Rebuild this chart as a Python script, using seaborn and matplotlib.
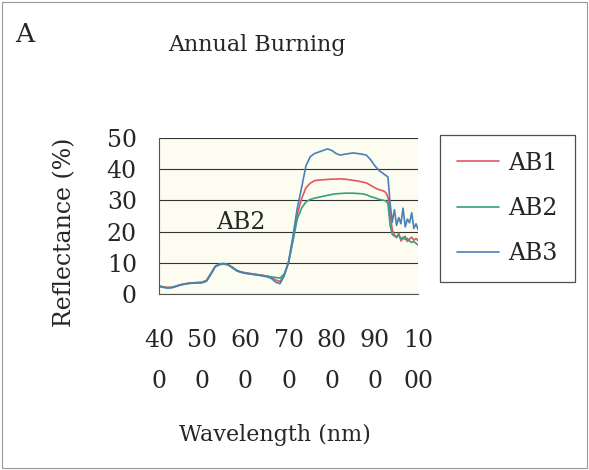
import matplotlib
matplotlib.use("Agg")
import matplotlib.pyplot as plt
import seaborn as sns
import pandas as pd
from matplotlib.patches import Rectangle
from matplotlib.lines import Line2D

wavelength = (list(range(400, 930, 10)) + list(range(925, 1005, 5)))

ab1 = [2.6, 2.3, 2.1, 2.2, 2.6, 3.0, 3.3, 3.5, 3.6, 3.7,
       3.8, 4.4, 6.6, 8.9, 9.5, 9.6, 9.4, 8.6, 7.6, 7.1,
       6.8, 6.6, 6.4, 6.2, 6.0, 5.7, 5.3, 4.5, 4.0, 6.2,
       10.2, 17.5, 25.5, 30.5, 34.0, 35.5, 36.3, 36.5, 36.6, 36.7,
       36.8, 36.8, 36.9, 36.8, 36.6, 36.4, 36.2, 35.9, 35.6, 34.8,
       34.0, 33.4, 33.0,
       32.5, 31.0, 26.0, 20.5, 19.0, 18.0, 19.5, 17.0, 17.8, 18.5, 16.8, 17.6, 18.2, 17.2, 17.8, 17.0]
ab2 = [2.5, 2.2, 2.0, 2.1, 2.5, 2.9, 3.2, 3.4, 3.5, 3.6,
       3.7, 4.2, 6.4, 8.7, 9.4, 9.6, 9.3, 8.4, 7.5, 7.0,
       6.7, 6.5, 6.3, 6.1, 5.9, 5.7, 5.5, 5.3, 5.1, 6.4,
       10.0, 17.0, 24.0, 27.5, 29.5, 30.3, 30.7, 31.0, 31.3, 31.6,
       31.9, 32.1, 32.2, 32.3, 32.3, 32.3, 32.2, 32.1, 31.8, 31.2,
       30.8, 30.3, 30.0,
       29.8, 29.0, 22.0, 19.0, 18.6, 18.2, 19.0, 17.6, 18.2, 17.4, 17.8, 17.0, 16.5, 16.8, 16.2, 15.7]
ab3 = [2.4, 2.1, 1.9, 2.0, 2.4, 2.9, 3.2, 3.4, 3.5, 3.5,
       3.6, 4.1, 6.3, 8.8, 9.6, 9.8, 9.4, 8.4, 7.4, 6.9,
       6.6, 6.4, 6.2, 6.0, 5.8, 5.5, 5.0, 3.8, 3.3, 5.8,
       10.5, 18.5, 27.5, 34.0, 41.0, 44.0, 45.0, 45.5, 46.0, 46.5,
       46.0, 45.0, 44.5, 44.8, 45.0, 45.2, 45.0, 44.8, 44.5, 43.0,
       41.0, 39.5, 38.5,
       38.0, 37.5, 29.0, 23.0, 27.0, 22.0, 24.5, 22.5, 27.5, 21.5, 24.0, 22.8, 26.0, 21.0, 22.5, 20.5]

series_names = ["AB1", "AB2", "AB3"]
series_colors = ["#e45560", "#36a080", "#4a80b8"]
x_ticks = [400, 500, 600, 700, 800, 900, 1000]
x_tick_labels = ["40\n0", "50\n0", "60\n0", "70\n0", "80\n0", "90\n0", "10\n00"]
y_ticks = [0, 10, 20, 30, 40, 50]

df = pd.concat([
    pd.DataFrame({"Wavelength": wavelength, "Reflectance": vals, "Series": name})
    for name, vals in zip(series_names, [ab1, ab2, ab3])
])

sns.set_theme(style="white")
plt.rcParams["font.family"] = ["DejaVu Serif"]

FS = 17

fig = plt.figure(figsize=(5.89, 4.70), dpi=100)
ax = fig.add_axes([0.270, 0.3745, 0.440, 0.332])
ax.set_facecolor("#fcfcf0")

sns.lineplot(data=df, x="Wavelength", y="Reflectance", hue="Series",
             palette=dict(zip(series_names, series_colors)), linewidth=1.2,
             ax=ax, legend=False)

ax.set_xlim(400, 1000)
ax.set_ylim(0, 50)
ax.set_xticks(x_ticks)
ax.set_xticklabels(x_tick_labels, fontsize=FS, linespacing=2.0)
ax.set_yticks(y_ticks)
ax.set_yticklabels([str(v) for v in y_ticks], fontsize=FS)
ax.tick_params(axis="x", direction="out", length=5, width=0.8, color="#333333", pad=20)
ax.tick_params(axis="y", direction="out", length=6, width=0.8, color="#333333", pad=10)
ax.set_xlabel("")
ax.set_ylabel("")
ax.grid(axis="y", color="#333333", linewidth=0.8)
ax.grid(axis="x", visible=False)
for s in ["top", "right"]:
    ax.spines[s].set_visible(False)
for s in ["left", "bottom"]:
    ax.spines[s].set_color("#555555")
    ax.spines[s].set_linewidth(0.8)
ax.set_axisbelow(True)

ax.text(590, 23, "AB2", fontsize=FS, ha="center", va="center")

handles = [Line2D([0], [0], color=c, linewidth=1.2) for c in series_colors]
leg = fig.legend(handles, series_names, loc="upper left",
                 bbox_to_anchor=(440 / 589, 1 - 135 / 470), fontsize=FS,
                 frameon=True, fancybox=False, handlelength=1.8,
                 labelspacing=0.95, borderpad=0.7, handletextpad=0.4,
                 borderaxespad=0)
leg.get_frame().set_edgecolor("#222222")
leg.get_frame().set_linewidth(0.9)

fig.text(25 / 589, 1 - 34 / 470, "A", fontsize=19, ha="center", va="center")
fig.text(257 / 589, 1 - 45 / 470, "Annual Burning", fontsize=16, ha="center", va="center")
fig.text(65 / 589, 1 - 232 / 470, "Reflectance (%)", fontsize=FS, ha="center",
         va="center", rotation=90)
fig.text(275 / 589, 1 - 435 / 470, "Wavelength (nm)", fontsize=16, ha="center", va="center")

fig.patches.append(Rectangle((0.004, 0.004), 0.992, 0.992, transform=fig.transFigure,
                             fill=False, edgecolor="#999999", linewidth=0.8))

fig.savefig("out.png", dpi=100)
